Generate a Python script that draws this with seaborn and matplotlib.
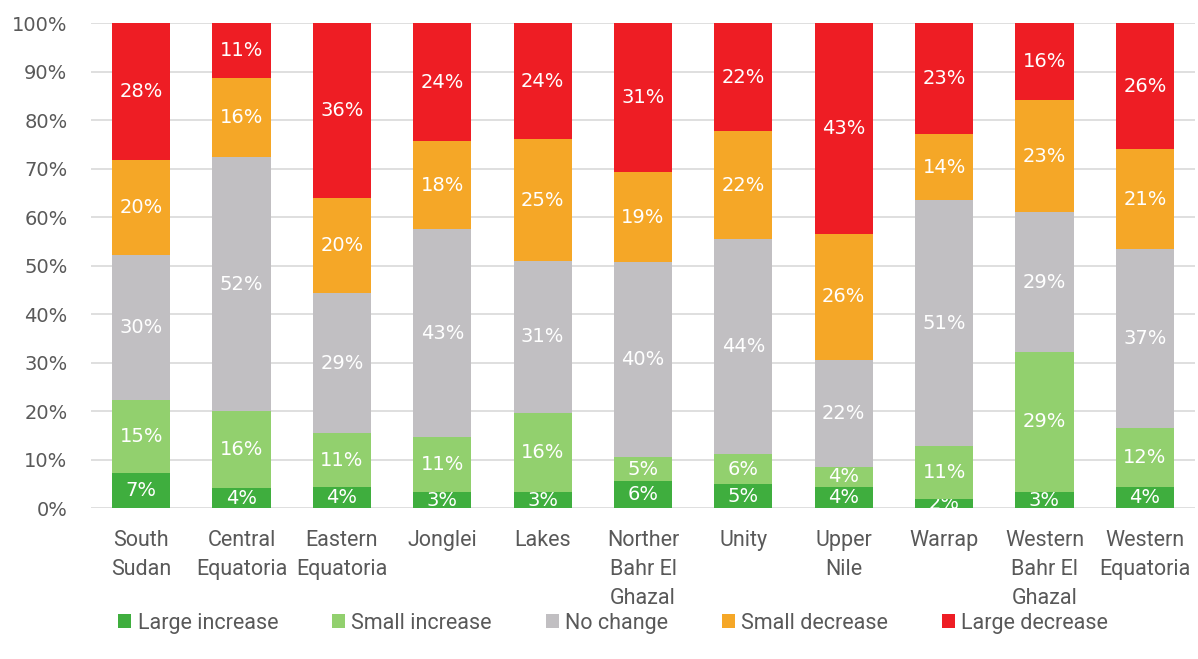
import numpy as np
import pandas as pd
import matplotlib
matplotlib.use("Agg")
import matplotlib.pyplot as plt
import seaborn as sns

regions = ["South\nSudan", "Central\nEquatoria", "Eastern\nEquatoria", "Jonglei", "Lakes",
           "Norther\nBahr El\nGhazal", "Unity", "Upper\nNile", "Warrap",
           "Western\nBahr El\nGhazal", "Western\nEquatoria"]

large_increase = [7.2, 4.1, 4.3, 3.3, 3.3, 5.6, 4.9, 4.4, 1.9, 3.3, 4.3]
small_increase = [15.0, 15.9, 11.2, 11.3, 16.3, 4.9, 6.2, 4.1, 10.8, 28.9, 12.2]
no_change = [29.9, 52.4, 28.8, 42.9, 31.4, 40.2, 44.4, 22.0, 50.8, 28.8, 36.9]
small_decrease = [19.6, 16.2, 19.6, 18.1, 25.0, 18.6, 22.2, 26.1, 13.6, 23.1, 20.6]
large_decrease = [28.3, 11.4, 36.1, 24.4, 24.0, 30.7, 22.3, 43.4, 22.9, 15.9, 26.0]

series_names = ["Large increase", "Small increase", "No change", "Small decrease", "Large decrease"]
series_values = [large_increase, small_increase, no_change, small_decrease, large_decrease]
series_colors = ["#3FAE3E", "#92D06E", "#C1BFC2", "#F5A727", "#EE1D24"]

sns.set_theme(style="white")
plt.rcParams["font.family"] = ["Roboto", "DejaVu Sans"]

fig = plt.figure(figsize=(11.98, 6.59), dpi=100)
ax = fig.add_axes([0.076, 0.229, 0.9215, 0.736])

bottom = np.zeros(len(regions))
for name, vals, col in zip(series_names, series_values, series_colors):
    vals = np.asarray(vals, dtype=float)
    sns.barplot(x=regions, y=vals, bottom=bottom, color=col, width=0.58,
                saturation=1, ax=ax, label=name, zorder=3, linewidth=0)
    cont = ax.containers[-1]
    ax.bar_label(cont, labels=[f"{v:.0f}%" for v in vals], label_type="center",
                 color="white", fontsize=14, family="DejaVu Sans")
    bottom = bottom + vals

if ax.get_legend() is not None:
    ax.get_legend().remove()

ax.set_ylim(0, 100)
ax.set_xlim(-0.5, len(regions) - 0.5)
ax.set_yticks(np.arange(0, 101, 10))
ax.set_yticklabels([f"{t}%" for t in range(0, 101, 10)], color="#595959",
                   fontsize=14, family="DejaVu Sans")
ax.tick_params(axis="x", colors="#595959", labelsize=15.5, length=0, pad=16)
ax.tick_params(axis="y", length=0, pad=17)
for lbl in ax.get_xticklabels():
    lbl.set_verticalalignment("top")
    lbl.set_linespacing(1.5)
ax.yaxis.grid(True, color="#D9D9D9", linewidth=1.2, zorder=0)
ax.set_axisbelow(True)
for s in ax.spines.values():
    s.set_visible(False)
ax.set_xlabel("")
ax.set_ylabel("")

handles, labels = ax.get_legend_handles_labels()
leg = fig.legend(handles, labels, loc="center", bbox_to_anchor=(0.512, 0.054), ncol=5,
                 frameon=False, fontsize=15.5, handlelength=0.6, handleheight=0.6,
                 handletextpad=0.3, columnspacing=2.5)
for t in leg.get_texts():
    t.set_color("#595959")

fig.savefig("out.png", dpi=100)
